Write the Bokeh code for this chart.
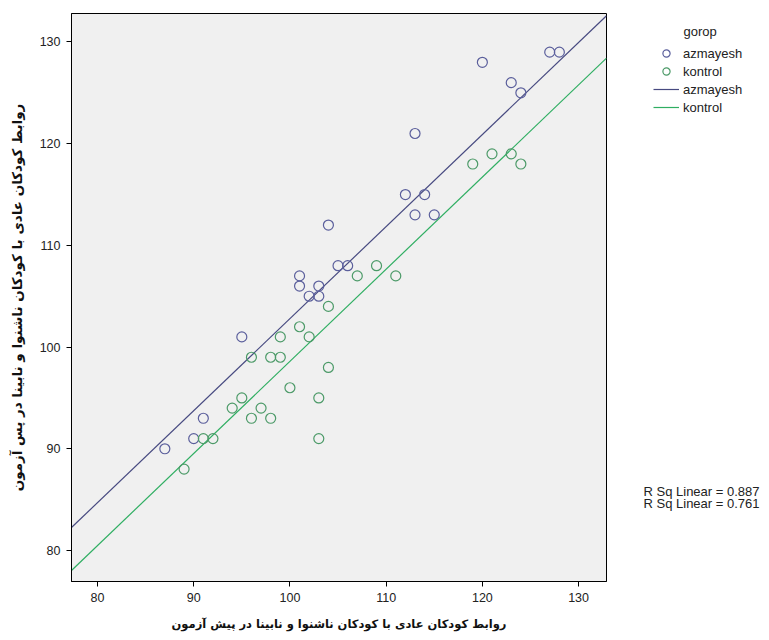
from bokeh.plotting import figure
from bokeh.models import Range1d, FixedTicker, Legend, LegendItem, Label
from bokeh.layouts import row
from bokeh.embed import file_html
from bokeh.resources import INLINE

# ---- data ----
az_x = [127, 128, 120, 123, 124, 113, 112, 114, 113, 115, 104, 105, 106, 101, 101, 103, 102, 103, 95, 91, 90, 87]
az_y = [129, 129, 128, 126, 125, 121, 115, 115, 113, 113, 112, 108, 108, 107, 106, 106, 105, 105, 101, 93, 91, 90]

ko_x = [119, 121, 123, 124, 109, 107, 111, 104, 101, 102, 99, 96, 98, 99, 104, 100, 95, 103, 94, 97, 96, 98, 91, 92, 103, 89]
ko_y = [118, 119, 119, 118, 108, 107, 107, 104, 102, 101, 101, 99, 99, 99, 98, 96, 95, 95, 94, 94, 93, 93, 91, 91, 91, 88]

legend_title = "gorop"
groups = ["azmayesh", "kontrol"]
fit_slope = [0.905, 0.906]
fit_intercept = [12.3, 8.0]
r_sq = [0.887, 0.761]

x_ticks = [80, 90, 100, 110, 120, 130]
y_ticks = [80, 90, 100, 110, 120, 130]

x_title = "روابط کودکان عادی با کودکان ناشنوا و نابینا در پیش آزمون"
y_title = "روابط کودکان عادی با کودکان ناشنوا و نابینا در پس آزمون"

az_color = "#5b5f9c"
ko_color = "#4c9a68"
az_line = "#474a80"
ko_line = "#2fae62"

X0, X1 = 77.3, 132.9
Y0, Y1 = 76.95, 132.8

FW, FH = 535, 568
BL, BT, BB, BR = 71, 13, 51, 2
TOTAL_H = BT + FH + BB
SIDE_W = 769 - (BL + FW + BR)

p = figure(frame_width=FW, frame_height=FH, output_backend="svg", toolbar_location=None,
           x_range=Range1d(X0, X1), y_range=Range1d(Y0, Y1),
           min_border_left=BL, min_border_right=BR, min_border_top=BT, min_border_bottom=BB)

p.background_fill_color = "#F0F0F0"
p.border_fill_color = "white"
p.outline_line_color = "black"
p.outline_line_width = 1
p.grid.visible = False

for ax, ticks in ((p.xaxis[0], x_ticks), (p.yaxis[0], y_ticks)):
    ax.ticker = FixedTicker(ticks=ticks)
    ax.minor_tick_line_color = None
    ax.major_tick_in = 0
    ax.major_tick_out = 5
    ax.major_tick_line_color = "black"
    ax.axis_line_color = "black"
    ax.major_label_text_font = "Liberation Sans"
    ax.major_label_text_font_size = "12.5px"
    ax.major_label_text_color = "#222222"
    ax.axis_label_text_font = "DejaVu Sans"
    ax.axis_label_text_font_style = "bold"
    ax.axis_label_text_color = "#111111"

p.xaxis.axis_label = x_title
p.yaxis.axis_label = y_title
p.xaxis.axis_label_text_font_size = "11.5px"
p.yaxis.axis_label_text_font_size = "13.5px"
p.xaxis.major_label_standoff = 6
p.xaxis.axis_label_standoff = 12
p.yaxis.major_label_standoff = 6
p.yaxis.axis_label_standoff = 12

# fit lines (from fitted slope / intercept across the visible x range)
xs_fit = [X0, X1]
for s_, b, c in zip(fit_slope, fit_intercept, (az_line, ko_line)):
    ys = [s_ * x + b for x in xs_fit]
    p.line(xs_fit, ys, line_color=c, line_width=1.2)

# points
p.scatter(az_x, az_y, marker="circle", size=10, fill_color=None,
          line_color=az_color, line_width=1.2)
p.scatter(ko_x, ko_y, marker="circle", size=10, fill_color=None,
          line_color=ko_color, line_width=1.2)

# ---- side panel with legend and R-squared notes ----
# its frame is aligned with the main frame (page y 13..581); y measured up from page bottom
s = figure(width=SIDE_W, height=TOTAL_H, output_backend="svg", toolbar_location=None,
           x_range=Range1d(0, SIDE_W), y_range=Range1d(BB, BB + FH),
           min_border=0, x_axis_type=None, y_axis_type=None)
s.outline_line_color = None
s.grid.visible = False
s.background_fill_color = "white"
s.border_fill_color = "white"

# legend proxies (hidden; they only lend their style to the legend icons)
k_az = s.scatter(az_x[:1], az_y[:1], marker="circle", size=10, fill_color=None,
                 line_color=az_color, line_width=1.2, visible=False)
k_ko = s.scatter(ko_x[:1], ko_y[:1], marker="circle", size=10, fill_color=None,
                 line_color=ko_color, line_width=1.2, visible=False)
l_az = s.line(az_x[:2], az_y[:2], line_color=az_line, line_width=1.2, visible=False)
l_ko = s.line(ko_x[:2], ko_y[:2], line_color=ko_line, line_width=1.2, visible=False)

legend = Legend(items=[
    LegendItem(label=groups[0], renderers=[k_az]),
    LegendItem(label=groups[1], renderers=[k_ko]),
    LegendItem(label=groups[0], renderers=[l_az]),
    LegendItem(label=groups[1], renderers=[l_ko]),
], location=(45, 464))
legend.border_line_color = None
legend.background_fill_alpha = 0
legend.margin = 0
legend.padding = 5
legend.label_text_font = "Liberation Sans"
legend.label_text_font_size = "13px"
legend.label_text_color = "#222222"
legend.glyph_width = 26
legend.glyph_height = 18
legend.label_height = 18
legend.spacing = 0
legend.label_standoff = 4
s.add_layout(legend)

s.add_layout(Label(x=75, y=TOTAL_H - 31, text=legend_title, text_font="Liberation Sans",
                   text_font_size="13px", text_color="#222222", text_baseline="middle"))

for i, v in enumerate(r_sq):
    s.add_layout(Label(x=35, y=TOTAL_H - 492 - 12 * i,
                       text=f"R Sq Linear = {v:.3f}", text_font="Liberation Sans",
                       text_font_size="13px", text_color="#222222",
                       text_baseline="middle"))

layout = row(p, s, spacing=0)
open("out.html", "w").write(file_html(layout, INLINE))
